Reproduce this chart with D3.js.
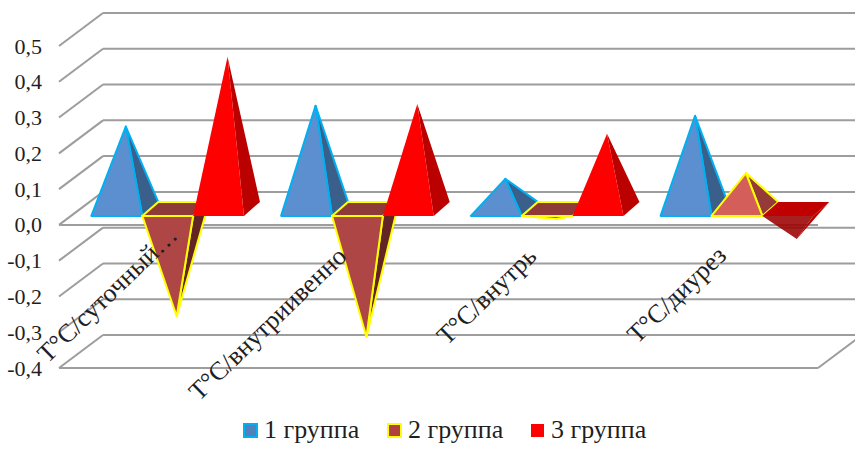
<!DOCTYPE html>
<html lang="ru">
<head>
<meta charset="utf-8">
<script src="https://cdn.jsdelivr.net/npm/d3@7/dist/d3.min.js"></script>
<style>
  html, body { margin: 0; padding: 0; background: #fff; }
  svg { display: block; }
  svg text { font-family: "Liberation Serif", "Times New Roman", serif !important; fill: #1f1f1f; }
</style>
</head>
<body>
<svg id="chart" width="855" height="466"></svg>
<script>
const categories = ["T°C/суточный…", "T°C/внутриивенно", "T°C/внутрь", "T°C/диурез"];
const seriesNames = ["1 группа", "2 группа", "3 группа"];
const group1 = [0.23, 0.288, 0.084, 0.26];
const group2 = [-0.30, -0.358, -0.028, 0.10];
const group3 = [0.425, 0.293, 0.21, -0.084];
const yTicks = [0.5, 0.4, 0.3, 0.2, 0.1, 0.0, -0.1, -0.2, -0.3, -0.4];

const seriesValues = [group1, group2, group3];

// Face colours per series: up/down front, side, base lid, outline
const palette = [
  { up: "#5b8fd0", down: "#4a76ab", side: "#3a5f8b", lid: "#3a5f8b", line: "#00b0f0", swatch: "#4f81bd" },
  { up: "#d35e5a", down: "#ad4644", side: "#943a38", lid: "#8e3a38", sideDown: "#632523", line: "#ffff00", swatch: "#b0413e" },
  { up: "#ff0000", down: "#9c0000", side: "#bb0000", lid: "#c00000", line: null, swatch: "#ff0000" }
];

const svg = d3.select("#chart");

// Value scale on the front plane of the 3D box
const y = d3.scaleLinear().domain([-0.4, 0.5]).range([368, 46]);
// Category bands along the front edge of the floor
const x = d3.scaleBand().domain(categories).range([59, 818]);
// Columns inside a category; gap of about 0.72 column width between clusters
const inner = d3.scaleBand().domain(d3.range(3)).range([0, x.bandwidth()]).paddingOuter(0.365).paddingInner(0);

// Depth of the box and the projected offset of column bases
const wall = { dx: 44, dy: -33 };
const baseFront = { dx: 13.8, dy: -9 };
const baseBack = { dx: 29.8, dy: -23 };
const apexShift = { dx: 22.8, dy: -16 };

const grid = svg.append("g").attr("fill", "none").attr("stroke", "#9d9d9d").attr("stroke-width", 2);

// Back wall lines, side wall diagonals
yTicks.forEach(t => {
  const yy = y(t);
  grid.append("line").attr("x1", 59 + wall.dx).attr("x2", 818 + wall.dx)
    .attr("y1", yy + wall.dy).attr("y2", yy + wall.dy);
  grid.append("line").attr("x1", 59).attr("x2", 59 + wall.dx)
    .attr("y1", yy).attr("y2", yy + wall.dy);
});

// Floor outline at the zero level, and bottom edge with its right return
grid.append("line").attr("x1", 59).attr("x2", 818).attr("y1", y(0)).attr("y2", y(0));
grid.append("line").attr("x1", 59).attr("x2", 818).attr("y1", y(-0.4)).attr("y2", y(-0.4));
grid.append("line").attr("x1", 818).attr("x2", 818 + wall.dx)
  .attr("y1", y(-0.4)).attr("y2", y(-0.4) + wall.dy);

// Value axis labels
const axis = d3.axisLeft(y).tickValues(yTicks).tickSize(0).tickPadding(0)
  .tickFormat(d => d3.format(".1f")(d).replace(".", ",").replace("\u2212", "-"));
const axisG = svg.append("g").attr("transform", "translate(42,0)").call(axis);
axisG.select(".domain").remove();
axisG.selectAll("text").attr("font-size", 22);

const poly = pts => pts.map(p => p.join(",")).join(" ");

// Pyramids, one cluster after another, left to right
const marks = svg.append("g").attr("stroke-linejoin", "round");
categories.forEach((cat, c) => {
  seriesValues.forEach((vals, s) => {
    const v = vals[c];
    const p = palette[s];
    const x0 = x(cat) + inner(s);
    const x1 = x0 + inner.bandwidth();
    const yb = y(0);
    const fl = [x0 + baseFront.dx, yb + baseFront.dy];
    const fr = [x1 + baseFront.dx, yb + baseFront.dy];
    const bl = [x0 + baseBack.dx, yb + baseBack.dy];
    const br = [x1 + baseBack.dx, yb + baseBack.dy];
    const apex = [(x0 + x1) / 2 + apexShift.dx, y(v) + apexShift.dy];
    const g = marks.append("g")
      .attr("stroke", p.line || "none")
      .attr("stroke-width", p.line ? 2 : 0);
    if (v >= 0) {
      g.append("polygon").attr("points", poly([fr, br, apex])).attr("fill", p.side);
      g.append("polygon").attr("points", poly([fl, fr, apex])).attr("fill", p.up);
    } else {
      g.append("polygon").attr("points", poly([fr, br, apex])).attr("fill", p.sideDown || p.side);
      g.append("polygon").attr("points", poly([fl, fr, apex])).attr("fill", p.down).attr("fill-opacity", s === 2 ? 0.88 : 1);
      g.append("polygon").attr("points", poly([fl, bl, br, fr])).attr("fill", p.lid);
    }
  });
});

// Category labels, rotated and ending under each cluster
const labelAnchor = [[179, 237], [348, 258], [538, 258], [728, 257]];
svg.append("g").selectAll("text").data(categories).join("text")
  .attr("text-anchor", "end")
  .attr("font-size", 26)
  .attr("transform", (d, i) => `translate(${labelAnchor[i][0]},${labelAnchor[i][1]}) rotate(-44)`)
  .text(d => d);

// Legend
const legendX = [243, 387, 530];
const legend = svg.append("g").selectAll("g").data(seriesNames).join("g")
  .attr("transform", (d, i) => `translate(${legendX[i]},423)`);
legend.append("rect").attr("x", 1).attr("y", 1).attr("width", 13).attr("height", 13)
  .attr("fill", (d, i) => palette[i].swatch)
  .attr("stroke", (d, i) => palette[i].line || "none")
  .attr("stroke-width", 2);
legend.append("text").attr("x", 21).attr("y", 15).attr("font-size", 26).text(d => d);
</script>
</body>
</html>
